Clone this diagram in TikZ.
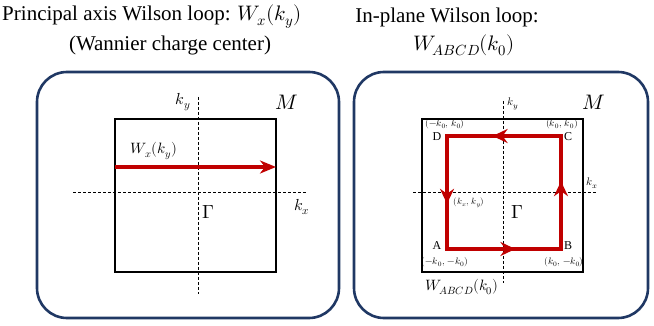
\documentclass[tikz,border=0pt]{standalone}
\usepackage{amsmath}
\usepackage{fontspec}
\usepackage{unicode-math}
\setmainfont{Liberation Serif}
\setmathfont{Latin Modern Math}
\usetikzlibrary{arrows.meta,decorations.markings}

\definecolor{navy}{HTML}{203864}
\definecolor{loopred}{HTML}{C00000}

\tikzset{
    panel/.style={draw=navy, line width=2.6pt, rounded corners=30pt},
    zone/.style={draw=black, line width=1.1pt},
    axis/.style={draw=black, line width=0.8pt, dash pattern=on 3pt off 2pt},
    title/.style={font=\fontsize{21}{24}\selectfont, inner sep=0pt},
    corner/.style={font=\fontsize{12}{14}\selectfont},
    point/.style={font=\fontsize{9.5}{11}\selectfont},
    wpath/.style={draw=loopred, line width=3.2pt},
    midarrow/.style={wpath, postaction={decorate}, decoration={markings,
        mark=at position 0.6 with {\arrow{Stealth[length=15pt,width=14pt,inset=5pt]}}}}
}

\begin{document}
\begin{tikzpicture}[x=1pt,y=-1pt]
\useasboundingbox (0,0) rectangle (654,326);

% Titles
\node[title] (t1) at (152,17) {Principal axis Wilson loop: $W_x(k_y)$};
\node[title] (t2) at (170,45) {(Wannier charge center)};
\node[title] (t3) at (447,17) {In-plane Wilson loop:};
\node[title] (t4) at (464,45) {$W_{ABCD}(k_0)$};

% Panels
\draw[panel] (37,72) rectangle (339,318);
\draw[panel] (354,72) rectangle (648,318);

% Left: principal axis loop
\draw[zone] (115,119) rectangle (276,272);
\coordinate (ly0) at (198,97);
\coordinate (ly1) at (198,294);
\coordinate (lx0) at (73,192);
\coordinate (lx1) at (307,192);
\draw[axis] (ly0) -- (ly1);
\draw[axis] (lx0) -- (lx1);
\coordinate (w0) at (115,167);
\coordinate (w1) at (276,167);
\draw[wpath, -{Stealth[length=16pt,width=13pt,inset=5pt]}] (w0) -- (w1);

\node[font=\fontsize{16}{18}\selectfont] (lky) at (183,102) {$k_y$};
\node[font=\fontsize{21}{24}\selectfont] (lM) at (287,102) {$M$};
\node[font=\fontsize{16}{18}\selectfont] (lkx) at (302,207) {$k_x$};
\node[font=\fontsize{19}{22}\selectfont] (lG) at (208,212) {$\Gamma$};
\node[font=\fontsize{15}{18}\selectfont] (lW) at (154,151) {$W_x(k_y)$};

% Right: in-plane loop
\draw[zone] (422,119) rectangle (583,272);
\coordinate (ry0) at (503,101);
\coordinate (ry1) at (503,283);
\coordinate (rx0) at (413,192);
\coordinate (rx1) at (596,192);
\draw[axis] (ry0) -- (ry1);
\draw[axis] (rx0) -- (rx1);

\coordinate (A) at (447,249);
\coordinate (B) at (561,249);
\coordinate (C) at (561,136);
\coordinate (D) at (447,136);
\draw[wpath, line join=miter] (A) -- (B) -- (C) -- (D) -- cycle;
\path[midarrow] (A) -- (B);
\path[midarrow] (B) -- (C);
\path[midarrow] (C) -- (D);
\path[midarrow] (D) -- (A);

\node[corner] (nA) at (437,246) {$\mathrm{A}$};
\node[corner] (nB) at (568,246) {$\mathrm{B}$};
\node[corner] (nC) at (568,137) {$\mathrm{C}$};
\node[corner] (nD) at (437,137) {$\mathrm{D}$};
\node[point] (pD) at (445,124) {$(-k_0,\,k_0)$};
\node[point] (pC) at (562,124) {$(k_0,\,k_0)$};
\node[point] (pA) at (445,262) {$(-k_0,\,-k_0)$};
\node[point] (pB) at (564,262) {$(k_0,\,-k_0)$};
\node[font=\fontsize{9}{11}\selectfont] (pk) at (469,203) {$(k_x,\,k_y)$};
\node[font=\fontsize{11}{13}\selectfont] (rky) at (513,104) {$k_y$};
\node[font=\fontsize{11}{13}\selectfont] (rkx) at (592,183) {$k_x$};
\node[font=\fontsize{21}{24}\selectfont] (rM) at (594,102) {$M$};
\node[font=\fontsize{19}{22}\selectfont] (rG) at (517,212) {$\Gamma$};
\node[font=\fontsize{15}{18}\selectfont] (rW) at (462,287) {$W_{ABCD}(k_0)$};
\end{tikzpicture}
\end{document}
